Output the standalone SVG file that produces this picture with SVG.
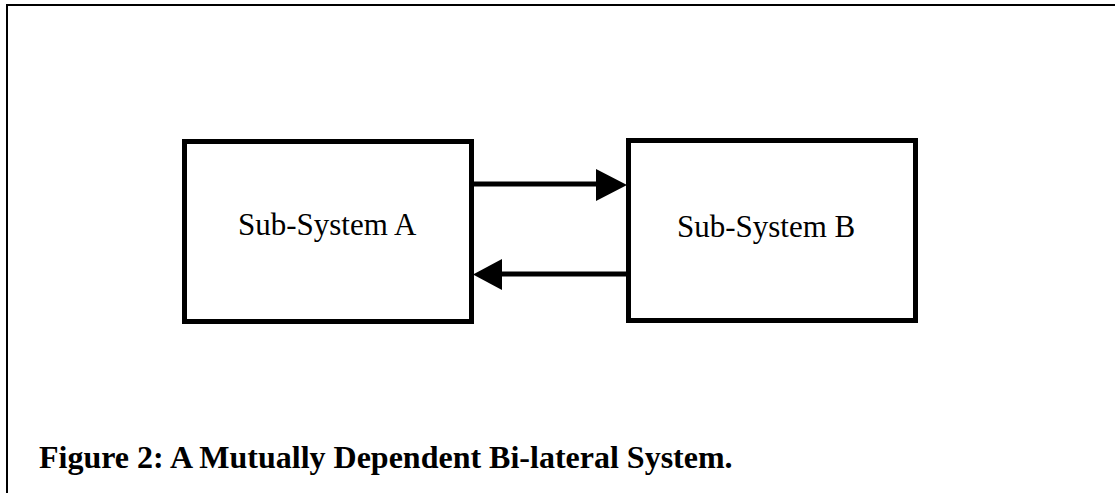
<svg xmlns="http://www.w3.org/2000/svg" width="1115" height="493" viewBox="0 0 1115 493">
<style>
.box{fill:#fff;stroke:#000;stroke-width:5}
.lbl{font-family:"Liberation Serif","Times New Roman",serif;font-size:31px;fill:#000}
.cap{font-family:"Liberation Serif","Times New Roman",serif;font-size:32px;font-weight:bold;fill:#000}
.conn{stroke:#000;stroke-width:5;fill:none}
.frame{stroke:#000;stroke-width:2;fill:none}
</style>
<rect width="1115" height="493" fill="#fff"/>
<path class="frame" d="M7 493 V5 H1115"/>
<g id="nodeA">
<rect class="box" x="184.5" y="141.5" width="287" height="180"/>
<text class="lbl" x="238" y="235">Sub-System A</text>
</g>
<g id="nodeB">
<rect class="box" x="628.5" y="140.5" width="287" height="180"/>
<text class="lbl" x="677" y="237">Sub-System B</text>
</g>
<g id="connectors">
<line class="conn" x1="474" y1="184" x2="598" y2="184"/>
<polygon points="596,169 627,185 596,201" fill="#000"/>
<line class="conn" x1="626" y1="274" x2="500" y2="274"/>
<polygon points="502,259 473,274.5 502,290" fill="#000"/>
</g>
<text class="cap" x="39" y="468">Figure 2: A Mutually Dependent Bi-lateral System.</text>
</svg>
